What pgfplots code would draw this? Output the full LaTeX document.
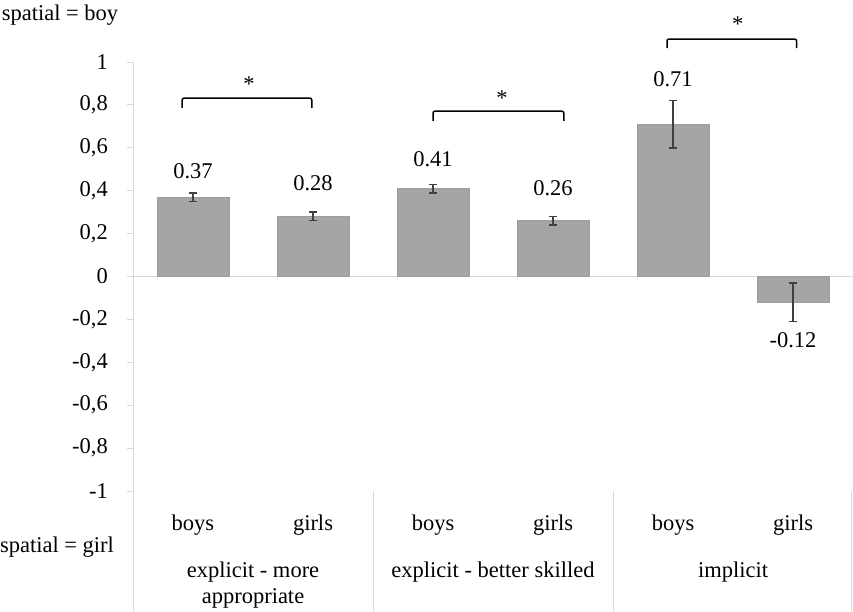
\documentclass[border=0pt]{standalone}
\usepackage{fontspec}
\setmainfont{Liberation Serif}
\usepackage{pgfplots}
\pgfplotsset{compat=1.18}
\usepackage{pgfplotstable}

\definecolor{barfill}{HTML}{A5A5A5}
\definecolor{baredge}{HTML}{9C9C9C}
\definecolor{errc}{HTML}{404040}
\definecolor{axc}{HTML}{D9D9D9}

\pgfplotstableread{
x y err
0 0.37 0.02
1 0.28 0.02
2 0.41 0.02
3 0.26 0.02
4 0.71 0.11
5 -0.12 0.09
}\datatable

\begin{document}
\begin{tikzpicture}[font=\fontsize{22.5}{26}\selectfont]
\begin{axis}[
  scale only axis, width=720pt, height=429pt,
  xmin=-0.5, xmax=5.5, ymin=-1, ymax=1,
  axis y line*=left, axis x line=none,
  y axis line style={axc, line width=1pt},
  ytick={-1,-0.8,-0.6,-0.4,-0.2,0,0.2,0.4,0.6,0.8,1},
  yticklabels={-1,{-0,8},{-0,6},{-0,4},{-0,2},0,{0,2},{0,4},{0,6},{0,8},1},
  tick align=outside, major tick length=6pt,
  ytick style={axc, line width=1pt},
  yticklabel style={inner sep=0pt, xshift=-19pt, font=\fontsize{22.5}{26}\selectfont},
  clip=false,
  ybar, bar width=72pt,
]
\draw[axc, line width=1.5pt] (axis cs:-0.5,0) -- (axis cs:5.5,0);
\addplot[fill=barfill, draw=baredge, line width=0.8pt,
  error bars/.cd, y dir=both, y explicit,
  error bar style={errc, line width=1.5pt},
  error mark=-,
  error mark options={errc, line width=1.5pt, mark size=4pt, rotate=90}]
  table[x=x, y=y, y error=err]{\datatable};

% separators
\draw[axc, line width=1pt] (axis cs:-0.5,-1) -- ([yshift=-120pt]axis cs:-0.5,-1);
\draw[axc, line width=1pt] (axis cs:1.5,-1) -- ([yshift=-120pt]axis cs:1.5,-1);
\draw[axc, line width=1pt] (axis cs:3.5,-1) -- ([yshift=-120pt]axis cs:3.5,-1);
\draw[axc, line width=1pt] (axis cs:5.49,-1) -- ([yshift=-120pt]axis cs:5.49,-1);

% category labels
\node at (axis cs:0,-1) [yshift=-34pt] {boys};
\node at (axis cs:1,-1) [yshift=-34pt] {girls};
\node at (axis cs:2,-1) [yshift=-34pt] {boys};
\node at (axis cs:3,-1) [yshift=-34pt] {girls};
\node at (axis cs:4,-1) [yshift=-34pt] {boys};
\node at (axis cs:5,-1) [yshift=-34pt] {girls};
\node at (axis cs:0.5,-1) [yshift=-81pt] {explicit - more};
\node at (axis cs:0.5,-1) [yshift=-107pt] {appropriate};
\node at (axis cs:2.5,-1) [yshift=-81pt] {explicit - better skilled};
\node at (axis cs:4.5,-1) [yshift=-81pt] {implicit};

% data labels
\node at (axis cs:0,0.492) {0.37};
\node at (axis cs:1,0.434) {0.28};
\node at (axis cs:2,0.546) {0.41};
\node at (axis cs:3,0.411) {0.26};
\node at (axis cs:4,0.921) {0.71};
\node at (axis cs:5,-0.296) {-0.12};

% significance brackets
\draw[black, line width=1.5pt, rounded corners=2pt] (axis cs:-0.09,0.786) -- (axis cs:-0.09,0.832) -- (axis cs:0.99,0.832) -- (axis cs:0.99,0.786);
\node at (axis cs:0.467,0.916) [yshift=-4.5pt] {*};
\draw[black, line width=1.5pt, rounded corners=2pt] (axis cs:2.0,0.725) -- (axis cs:2.0,0.771) -- (axis cs:3.09,0.771) -- (axis cs:3.09,0.725);
\node at (axis cs:2.575,0.854) [yshift=-4.5pt] {*};
\draw[black, line width=1.5pt, rounded corners=2pt] (axis cs:3.95,1.065) -- (axis cs:3.95,1.107) -- (axis cs:5.03,1.107) -- (axis cs:5.03,1.065);
\node at (axis cs:4.54,1.196) [yshift=-4.5pt] {*};
\end{axis}
\node at (-73pt,476pt) {spatial = boy};
\node at (-76pt,-56pt) {spatial = girl};
\pgfresetboundingbox
\useasboundingbox (-133pt,-120pt) rectangle (720pt,491pt);
\end{tikzpicture}
\end{document}
